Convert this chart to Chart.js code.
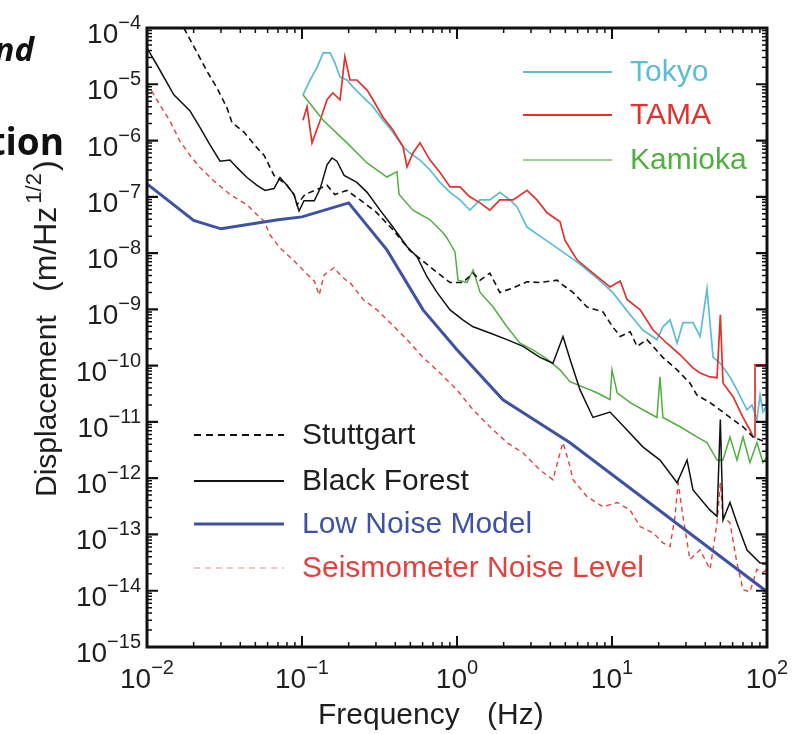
<!DOCTYPE html>
<html lang="en">
<head>
  <meta charset="UTF-8">
  <title>Ground Displacement Spectra</title>
  <script src="https://cdn.jsdelivr.net/npm/chart.js"></script>
  <style>
    body {
      margin: 0;
      background: #fff;
    }
    #wrap {
      position: relative;
      width: 793px;
      height: 734px;
    }
  </style>
</head>
<body>
  <div id="wrap">
    <canvas id="noiseChart" width="793" height="734"></canvas>
  </div>

  <script>
    // [frequency (Hz), displacement (m/Hz^1/2)]
    const lowNoiseModel = [[0.01,1.7e-7],[0.02,3.8e-8],[0.03,2.7e-8],[0.07,3.9e-8],[0.1,4.4e-8],[0.2,7.8e-8],
      [0.353,1.14e-8],[0.604,9.8e-10],[1,1.91e-10],[1.98,2.47e-11],[5.36,4.26e-12],[100,9.6e-15]];

    const blackForest = [[0.01,4.4e-5],[0.0116,2.2e-5],[0.0149,6.5e-6],[0.0189,3.4e-6],[0.022,1.7e-6],[0.0255,8.4e-7],
      [0.0296,4.3e-7],[0.0343,4.5e-7],[0.0381,3.3e-7],[0.0442,2.2e-7],[0.0513,1.6e-7],[0.0577,1.3e-7],[0.066,1.4e-7],
      [0.0721,2.2e-7],[0.08,1.6e-7],[0.0888,1.1e-7],[0.0957,5.6e-8],[0.103,8.5e-8],[0.12,8.5e-8],[0.131,1.4e-7],
      [0.145,3.7e-7],[0.156,4.9e-7],[0.168,4.3e-7],[0.187,2.4e-7],[0.226,1.8e-7],[0.263,1.2e-7],[0.319,5.8e-8],
      [0.386,2.9e-8],[0.476,1.3e-8],[0.552,8.6e-9],[0.64,3.8e-9],[0.743,2.0e-9],[0.902,9.8e-10],[1.09,6.5e-10],
      [1.27,4.9e-10],[1.63,3.8e-10],[2.1,2.9e-10],[2.67,2.2e-10],[3.43,1.4e-10],[4.16,1.1e-10],[4.83,3.3e-10],
      [5.36,1.3e-10],[6.22,3.7e-11],[7.54,1.2e-11],[9.71,1.5e-11],[12.5,7.2e-12],[15.8,3.6e-12],[20.4,2.1e-12],
      [26.3,8.3e-13],[30.5,2.1e-12],[33.3,6.2e-13],[42.9,2.7e-13],[47.6,2.1e-13],[50,1.1e-11],[52,1.8e-13],
      [57.7,3.7e-13],[64,1.6e-13],[74.3,5.3e-14],[90.2,3.1e-14],[100,3.1e-14]];

    const stuttgart = [[0.0173,1e-4],[0.0244,1.7e-5],[0.0283,8.6e-6],[0.0328,3.8e-6],[0.0353,2.1e-6],[0.0423,1.4e-6],
      [0.0513,7.4e-7],[0.0569,5.5e-7],[0.066,2.4e-7],[0.0721,2.0e-7],[0.08,1.6e-7],[0.0888,1.1e-7],[0.0929,7.2e-8],
      [0.1045,1.1e-7],[0.121,1.3e-7],[0.145,1.6e-7],[0.163,1.1e-7],[0.195,1.3e-7],[0.237,8.8e-8],[0.3,5.4e-8],
      [0.386,2.6e-8],[0.498,1.1e-8],[0.711,5.0e-9],[0.902,3.0e-9],[1.09,3.0e-9],[1.27,4.4e-9],[1.41,3.3e-9],
      [1.63,4.4e-9],[1.89,2.0e-9],[2.3,2.4e-9],[2.83,3.1e-9],[3.43,3.0e-9],[4.42,3.3e-9],[4.83,2.7e-9],[5.6,2.0e-9],
      [6.9,1.1e-9],[8.75,9.0e-10],[10.1,4.9e-10],[11.3,3.3e-10],[13.1,4.0e-10],[14.5,2.2e-10],[16.8,2.9e-10],
      [21.3,1.4e-10],[26.3,8.4e-11],[31.8,4.9e-11],[35.3,3.0e-11],[42.9,2.2e-11],[52,1.5e-11],[57.7,1.2e-11],
      [70,8.2e-12],[81.3,5.4e-12],[100,4.3e-12]];

    const seismometer = [[0.01,1.05e-5],[0.0121,4.3e-6],[0.0141,2.2e-6],[0.0163,9.8e-7],[0.0189,5.5e-7],[0.022,3.3e-7],
      [0.0271,1.9e-7],[0.0343,1.1e-7],[0.0442,7.2e-8],[0.0513,4.8e-8],[0.0569,3.7e-8],[0.0622,2.1e-8],[0.0721,1.24e-8],
      [0.0888,7.3e-9],[0.103,4.8e-9],[0.12,3.2e-9],[0.129,1.8e-9],[0.139,4.1e-9],[0.161,5.5e-9],[0.176,4.1e-9],
      [0.195,3.2e-9],[0.204,3.0e-9],[0.248,1.5e-9],[0.305,9.8e-10],[0.37,5.8e-10],[0.476,2.9e-10],[0.604,1.4e-10],
      [0.777,7.4e-11],[1.0,3.7e-11],[1.27,1.64e-11],[1.63,8.2e-12],[2.1,4.3e-12],[2.67,2.8e-12],[3.43,1.4e-12],
      [4.16,9.4e-13],[4.62,2.8e-12],[4.83,4.3e-12],[5.36,1.6e-12],[5.6,9.4e-13],[6.9,4.7e-13],[8.75,3.1e-13],
      [10.8,3.7e-13],[13.1,2.7e-13],[15.2,1.37e-13],[18.4,1.07e-13],[21.3,7.1e-14],[23.7,6.1e-14],[25.5,2.1e-13],
      [26.7,8.3e-13],[28.7,2.1e-13],[31.8,3.6e-14],[37,5.3e-14],[42.9,2.4e-14],[47.6,1.6e-13],[50,8.3e-13],
      [52,2.1e-13],[57.7,1.6e-13],[64,3.1e-14],[70,1.04e-14],[77.6,9.6e-15],[86.1,2.4e-14],[94.2,2.1e-14],[100,2.4e-14]];

    const kamioka = [[0.1015,6.5e-6],[0.137,2.3e-6],[0.195,9.1e-7],[0.263,4.0e-7],[0.353,2.25e-7],[0.41,2.8e-7],
      [0.423,1.1e-7],[0.52,5.8e-8],[0.67,3.9e-8],[0.812,2.3e-8],[0.861,1.86e-8],[0.971,1.05e-8],[1.015,3.3e-9],
      [1.16,3.0e-9],[1.27,5.0e-9],[1.41,2.0e-9],[1.71,1.1e-9],[2.1,4.9e-10],[2.55,2.5e-10],[3.09,1.9e-10],
      [3.81,1.3e-10],[4.62,8.4e-11],[5.36,5.2e-11],[8.0,3.3e-11],[9.71,2.5e-11],[10.0,8.4e-11],[10.8,3.3e-11],
      [13.1,2.2e-11],[16.8,1.5e-11],[19.5,1.2e-11],[20.4,6.3e-11],[21.3,1.2e-11],[27.5,8.2e-12],[35.3,5.4e-12],
      [41,4.3e-12],[47.6,2.1e-12],[52,2.1e-12],[57.7,5.4e-12],[64,2.1e-12],[70,5.4e-12],[77.6,1.9e-12],
      [86.1,4.3e-12],[94.2,1.9e-12],[100,2.4e-12]];

    const tama = [[0.1015,2.3e-6],[0.1077,4.0e-6],[0.116,9.1e-7],[0.131,2.3e-6],[0.145,5.3e-6],[0.158,7.0e-6],
      [0.176,5.3e-6],[0.189,3.1e-5],[0.204,1.19e-5],[0.226,1.19e-5],[0.263,7.9e-6],[0.287,5.3e-6],[0.333,2.6e-6],
      [0.386,1.54e-6],[0.449,7.7e-7],[0.476,3.4e-7],[0.52,6.0e-7],[0.577,9.1e-7],[0.67,4.5e-7],[0.777,2.7e-7],
      [0.902,1.5e-7],[1.045,1.5e-7],[1.21,1.0e-7],[1.41,7.8e-8],[1.63,5.8e-8],[1.89,8.8e-8],[2.3,8.8e-8],
      [2.83,1.3e-7],[3.28,8.8e-8],[3.81,5.2e-8],[4.62,3.6e-8],[4.97,1.7e-8],[5.94,7.6e-9],[7.54,4.4e-9],
      [9.71,2.5e-9],[11.3,3.2e-9],[12.5,1.5e-9],[15.2,9.8e-10],[18.4,4.3e-10],[22.6,2.5e-10],[27.5,1.56e-10],
      [33.3,9.1e-11],[37,7.4e-11],[42.9,6.3e-11],[47.6,6.1e-11],[50,8.0e-10],[52,4.9e-11],[60.4,2.8e-11],
      [70,1.2e-11],[77.6,7.2e-12],[81.3,5.4e-12],[83.7,5.4e-12],[83.7,1.03e-10],[100,1.03e-10],[100,5.4e-12],
      [100,2.2e-9]];

    const tokyo = [[0.1015,6.5e-6],[0.1127,1.19e-5],[0.125,2.0e-5],[0.137,3.6e-5],[0.152,3.6e-5],[0.163,2.4e-5],
      [0.176,1.35e-5],[0.195,1.19e-5],[0.213,9.0e-6],[0.248,5.9e-6],[0.287,4.0e-6],[0.333,2.3e-6],[0.386,1.4e-6],
      [0.449,7.7e-7],[0.498,6.0e-7],[0.577,4.5e-7],[0.67,3.0e-7],[0.777,1.8e-7],[0.902,1.2e-7],[1.045,8.8e-8],
      [1.21,5.8e-8],[1.41,8.8e-8],[1.63,8.8e-8],[1.89,1.2e-7],[2.2,8.8e-8],[2.44,6.6e-8],[2.83,2.9e-8],
      [3.43,2.0e-8],[4.42,1.24e-8],[5.94,7.0e-9],[8.0,3.6e-9],[10.1,2.0e-9],[13.1,8.0e-10],[15.8,4.3e-10],
      [19.5,2.9e-10],[21.3,4.9e-10],[23.7,6.5e-10],[26.3,2.5e-10],[28.7,5.8e-10],[33.3,5.8e-10],[37,3.3e-10],
      [41,2.3e-9],[44.9,1.4e-10],[50,1.1e-10],[57.7,6.3e-11],[64,3.7e-11],[74.3,1.64e-11],[80,2.0e-11],
      [86.1,1.1e-11],[90.2,3.0e-11],[94.2,1.5e-11],[100,2.0e-11]];

    // axis decades (exponents of 10)
    const xExponents = [-2, -1, 0, 1, 2];
    const yExponents = [-15, -14, -13, -12, -11, -10, -9, -8, -7, -6, -5, -4];

    const FONT = '"Liberation Sans", Arial, sans-serif';
    const INK = '#1e1e1e';

    const toPts = arr => arr.map(p => ({ x: p[0], y: p[1] }));

    function series(label, data, color, width, dash) {
      return {
        label: label,
        data: toPts(data),
        borderColor: color,
        borderWidth: width,
        borderDash: dash || [],
        showLine: true,
        pointRadius: 0,
        tension: 0,
        fill: false
      };
    }

    // first dataset ends up on top
    const datasets = [
      series('Low Noise Model', lowNoiseModel, '#3d52a3', 3),
      series('Black Forest', blackForest, '#111', 1.5),
      series('Stuttgart', stuttgart, '#111', 1.6, [6, 4]),
      series('Seismometer Noise Level', seismometer, '#e5413b', 1.4, [5, 4]),
      series('Kamioka', kamioka, '#4fb03f', 1.5),
      series('TAMA', tama, '#e2322c', 1.7),
      series('Tokyo', tokyo, '#5bbcd6', 1.7)
    ];

    // legend boxes drawn inside the plot
    const legendTopRight = [
      { label: 'Tokyo', line: '#5bbcd6', text: '#5bbcd6', width: 2, dash: [], y: 72 },
      { label: 'TAMA', line: '#e2322c', text: '#e2322c', width: 2, dash: [], y: 115 },
      { label: 'Kamioka', line: '#7fc06c', text: '#4fb03f', width: 1.3, dash: [], y: 160 }
    ];
    const legendBottomLeft = [
      { label: 'Stuttgart', line: '#111', text: INK, width: 2, dash: [7, 5], y: 435 },
      { label: 'Black Forest', line: '#111', text: INK, width: 2, dash: [], y: 481 },
      { label: 'Low Noise Model', line: '#3d52a3', text: '#3d52a3', width: 3.2, dash: [], y: 524 },
      { label: 'Seismometer Noise Level', line: '#ef8a86', text: '#e5413b', width: 1.2, dash: [6, 5], y: 568 }
    ];

    function drawLegend(ctx, items, x0, x1, tx) {
      items.forEach(it => {
        ctx.save();
        ctx.strokeStyle = it.line;
        ctx.lineWidth = it.width;
        ctx.setLineDash(it.dash);
        ctx.beginPath();
        ctx.moveTo(x0, it.y);
        ctx.lineTo(x1, it.y);
        ctx.stroke();
        ctx.restore();
        ctx.fillStyle = it.text;
        ctx.font = '30px ' + FONT;
        ctx.textAlign = 'left';
        ctx.textBaseline = 'alphabetic';
        ctx.fillText(it.label, tx, it.y + 9);
      });
    }

    function powerLabel(ctx, exp, x, y, align, expBaseOffset) {
      const base = '10';
      const sup = (exp < 0 ? '\u2212' : '') + Math.abs(exp);
      ctx.font = '28px ' + FONT;
      const wb = ctx.measureText(base).width;
      ctx.font = '20px ' + FONT;
      const ws = ctx.measureText(sup).width;
      let left = align === 'center' ? x - (wb + ws) / 2 : x - (wb + ws);
      ctx.textAlign = 'left';
      ctx.fillStyle = INK;
      ctx.font = '28px ' + FONT;
      ctx.fillText(base, left, y);
      ctx.font = '20px ' + FONT;
      ctx.fillText(sup, left + wb, y - expBaseOffset);
    }

    const framePlugin = {
      id: 'frame',
      afterDatasetsDraw(chart) {
        const ctx = chart.ctx;
        const area = chart.chartArea;
        const xs = chart.scales.x;
        const ys = chart.scales.y;

        ctx.save();
        // tick marks, inward on every side
        ctx.strokeStyle = '#111';
        xExponents.forEach(e => {
          for (let k = 1; k <= 9; k++) {
            const v = k * Math.pow(10, e);
            if (v > 100.0001) break;
            const px = xs.getPixelForValue(v);
            const len = k === 1 ? 11 : 5;
            ctx.lineWidth = k === 1 ? 2 : 1.5;
            ctx.beginPath();
            ctx.moveTo(px, area.bottom); ctx.lineTo(px, area.bottom - len);
            ctx.moveTo(px, area.top); ctx.lineTo(px, area.top + len);
            ctx.stroke();
          }
        });
        yExponents.forEach(e => {
          for (let k = 1; k <= 9; k++) {
            const v = k * Math.pow(10, e);
            if (v > 1.0001e-4) break;
            const py = ys.getPixelForValue(v);
            const len = k === 1 ? 11 : 5;
            ctx.lineWidth = k === 1 ? 2.2 : 1.5;
            ctx.beginPath();
            ctx.moveTo(area.left, py); ctx.lineTo(area.left + len, py);
            ctx.moveTo(area.right, py); ctx.lineTo(area.right - len, py);
            ctx.stroke();
          }
        });

        // box
        ctx.lineWidth = 3;
        ctx.strokeRect(area.left, area.top, area.right - area.left, area.bottom - area.top);

        // tick labels
        ctx.textBaseline = 'alphabetic';
        xExponents.forEach(e => {
          powerLabel(ctx, e, xs.getPixelForValue(Math.pow(10, e)), 688, 'center', 14);
        });
        yExponents.forEach(e => {
          const py = ys.getPixelForValue(Math.pow(10, e));
          powerLabel(ctx, e, 141, py + 15, 'right', 14);
        });

        // axis titles
        ctx.fillStyle = INK;
        ctx.font = '30px ' + FONT;
        ctx.textAlign = 'left';
        ctx.fillText('Frequency', 318, 724);
        ctx.fillText('(Hz)', 487, 724);

        ctx.save();
        ctx.translate(56, 497);
        ctx.rotate(-Math.PI / 2);
        ctx.font = '30px ' + FONT;
        ctx.fillText('Displacement', 0, 0);
        let off = 205;
        ctx.font = '32px ' + FONT;
        ctx.fillText('(m/Hz', off, 0);
        off += ctx.measureText('(m/Hz').width + 3;
        ctx.font = '22px ' + FONT;
        ctx.fillText('1/2', off, -15);
        off += ctx.measureText('1/2').width + 2;
        ctx.font = '32px ' + FONT;
        ctx.fillText(')', off, 0);
        ctx.restore();

        // legends
        drawLegend(ctx, legendTopRight, 523, 612, 630);
        drawLegend(ctx, legendBottomLeft, 194, 284, 302);

        // bits of slide text cut off at the left edge
        ctx.fillStyle = '#111';
        ctx.textAlign = 'right';
        ctx.font = 'italic bold 33px "Open Sans", sans-serif';
        ctx.fillText('nd', 34, 61);
        ctx.font = 'bold 37px "Open Sans", sans-serif';
        ctx.fillText('tion', 64, 155);
        ctx.restore();
      }
    };

    const chart = new Chart(document.getElementById('noiseChart').getContext('2d'), {
      type: 'scatter',
      data: { datasets: datasets },
      options: {
        responsive: false,
        animation: false,
        devicePixelRatio: 1,
        layout: { padding: { left: 147, top: 28, right: 26, bottom: 87 } },
        plugins: {
          legend: { display: false },
          tooltip: { enabled: false }
        },
        scales: {
          x: { type: 'logarithmic', min: 0.01, max: 100, display: false },
          y: { type: 'logarithmic', min: 1e-15, max: 1e-4, display: false }
        }
      },
      plugins: [framePlugin]
    });
  </script>
</body>
</html>
